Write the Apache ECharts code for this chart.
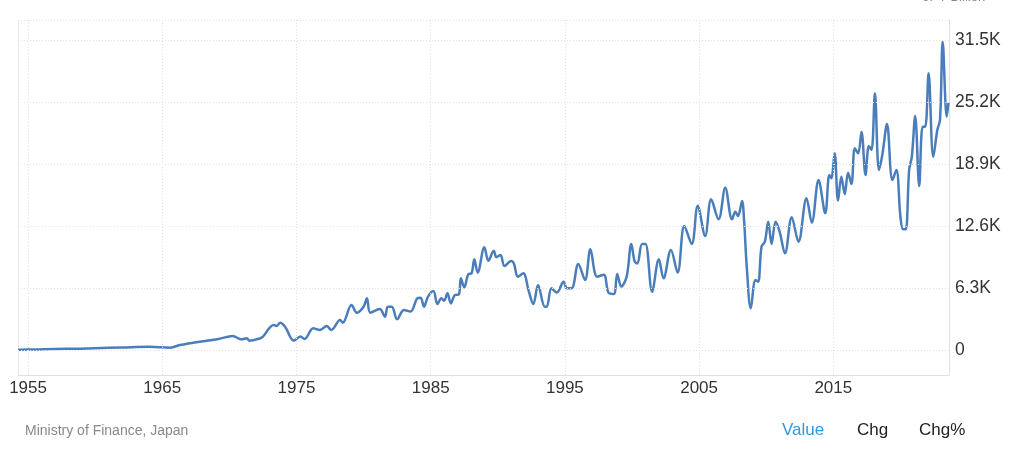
<!DOCTYPE html>
<html><head><meta charset="utf-8">
<script src="https://cdn.jsdelivr.net/npm/echarts@6/dist/echarts.min.js"></script>
<style>html,body{margin:0;padding:0;background:#fff}#c{width:1012px;height:451px}</style>
</head><body><div id="c"></div>
<script>
const years = [1954.25,1955.5,1957,1958.5,1960,1962,1964,1965.6,1966.3,1967.3,1968.2,1969.2,1970.25,1970.9,1971.3,1971.5,1972.3,1972.5,1973.3,1973.5,1973.8,1974.15,1974.8,1975.3,1975.6,1976.25,1976.75,1977.25,1977.6,1978.25,1978.45,1979.1,1979.5,1980,1980.25,1980.5,1981.2,1981.6,1981.8,1982.1,1982.5,1983,1983.5,1984,1984.25,1984.5,1984.8,1985.2,1985.5,1985.8,1986,1986.25,1986.5,1986.8,1987.1,1987.25,1987.5,1987.8,1988.05,1988.25,1988.5,1989,1989.3,1989.7,1989.9,1990.2,1990.5,1991,1991.2,1991.5,1991.9,1992.3,1992.65,1993,1993.5,1993.65,1994,1994.4,1994.9,1995.15,1995.5,1996,1996.5,1996.9,1997.4,1997.9,1998.25,1998.65,1998.9,1999.2,1999.6,1999.95,2000.2,2000.4,2000.75,2001,2001.5,2002,2002.35,2002.9,2003.4,2003.9,2004.45,2004.9,2005.45,2005.9,2006.45,2006.95,2007.45,2007.7,2007.9,2008.2,2008.35,2008.55,2008.85,2009.2,2009.4,2009.65,2009.9,2010.15,2010.4,2010.7,2011,2011.4,2011.9,2012.4,2013,2013.4,2013.9,2014.4,2014.7,2014.85,2015.1,2015.35,2015.6,2015.85,2016.1,2016.35,2016.6,2016.85,2017.1,2017.4,2017.65,2017.85,2018.1,2018.4,2018.65,2019,2019.4,2019.7,2020,2020.2,2020.4,2020.65,2020.85,2021.1,2021.4,2021.65,2021.85,2022.1,2022.45,2022.75,2022.95,2023.15,2023.45,2023.58];
const values = [30,60,110,120,190,260,330,240,500,740,910,1120,1420,1080,1190,950,1190,1360,2540,2440,2780,2370,950,1360,1120,2200,2030,2440,2030,3050,2780,4570,3790,4400,5250,3790,4170,3390,4400,4400,3120,4060,3900,5250,5320,4400,5420,6000,4670,5250,5010,5760,4740,5590,5660,7280,6370,7690,7790,9210,7860,10430,9080,10090,9420,9650,8530,9040,8800,7450,7790,6000,4670,6600,4400,4400,6270,5830,6940,6270,6270,8740,7110,10230,7450,7650,5830,5690,7720,6440,7450,10770,8970,8800,10770,10770,5930,9210,7280,10160,7860,12600,10770,14660,11580,15310,13280,16490,13280,14050,13610,15140,13210,8470,4230,7110,6940,10500,11000,13040,10770,13040,12020,9820,13500,11000,15410,12940,17270,13890,17780,17440,19980,15170,17610,15850,18010,16870,20490,19980,22180,17780,20730,20320,26080,18290,19810,22960,17270,18290,13550,12260,12260,18290,19640,23770,16660,22690,22690,28110,19640,22350,23370,31320,23700,25120];
const yTicks = [0,6300,12600,18900,25200,31500];
const yTickLabels = ['0','6.3K','12.6K','18.9K','25.2K','31.5K'];
const xTicks = [1955,1965,1975,1985,1995,2005,2015];
const xTickLabels = ['1955','1965','1975','1985','1995','2005','2015'];
const unitLabel = 'JPY Billion';
const sourceLabel = 'Ministry of Finance, Japan';
const tabs = ['Value','Chg','Chg%'];

const FONT = '"Liberation Sans", Arial, sans-serif';
const yMin = -2540, yMax = 33530, xMin = 1954.25, xMax = 2023.62;
const gridStyle = {color:'#e2e2e2', type:[1,2], width:1};
const mlData = [];
yTicks.forEach((v,i)=>mlData.push({yAxis:v, lineStyle:gridStyle,
  label:{show:true, position:'end', formatter:yTickLabels[i], color:'#333', fontSize:17.5, fontFamily:FONT, distance:6}}));
mlData.push({yAxis:yMax, lineStyle:gridStyle, label:{show:false}});
xTicks.forEach((v,i)=>mlData.push({xAxis:v, lineStyle:gridStyle,
  label:{show:true, position:'start', formatter:xTickLabels[i], color:'#333', fontSize:17, fontFamily:FONT, distance:5}}));

const chart = echarts.init(document.getElementById('c'), null, {renderer:'canvas'});
chart.setOption({
  animation:false,
  backgroundColor:'#fff',
  grid:{left:18, right:63, top:20, bottom:76, containLabel:false},
  xAxis:{type:'value', min:xMin, max:xMax, axisLabel:{show:false}, axisTick:{show:false}, splitLine:{show:false},
    axisLine:{show:true, onZero:false, lineStyle:{color:'#e0e0e0', width:1}}},
  yAxis:[
    {type:'value', position:'right', min:yMin, max:yMax, axisLabel:{show:false}, axisTick:{show:false}, splitLine:{show:false},
      axisLine:{show:true, lineStyle:{color:'#e0e0e0', width:1}}},
    {type:'value', position:'left', min:yMin, max:yMax, axisLabel:{show:false}, axisTick:{show:false}, splitLine:{show:false},
      axisLine:{show:true, lineStyle:{color:'#e8e8e8', width:1}}}
  ],
  series:[{
    type:'line', data:years.map((y,i)=>[y, values[i]]), smooth:0.35, showSymbol:false, symbol:'none',
    lineStyle:{color:'#4a7ebb', width:2.5}, itemStyle:{color:'#4a7ebb'},
    markLine:{silent:true, symbol:['none','none'], animation:false, data:mlData},
    z:3
  }],
  graphic:[
    {type:'text', left:923, top:-9, style:{text:unitLabel, fill:'#888', font:'13px '+FONT}},
    {type:'text', left:25, top:424, style:{text:sourceLabel, fill:'#888', font:'14px '+FONT}},
    {type:'text', left:782, top:422, style:{text:tabs[0], fill:'#2f9ae0', font:'17px '+FONT}},
    {type:'text', left:857, top:422, style:{text:tabs[1], fill:'#222', font:'17px '+FONT}},
    {type:'text', left:919, top:422, style:{text:tabs[2], fill:'#222', font:'17px '+FONT}}
  ]
});
</script></body></html>
